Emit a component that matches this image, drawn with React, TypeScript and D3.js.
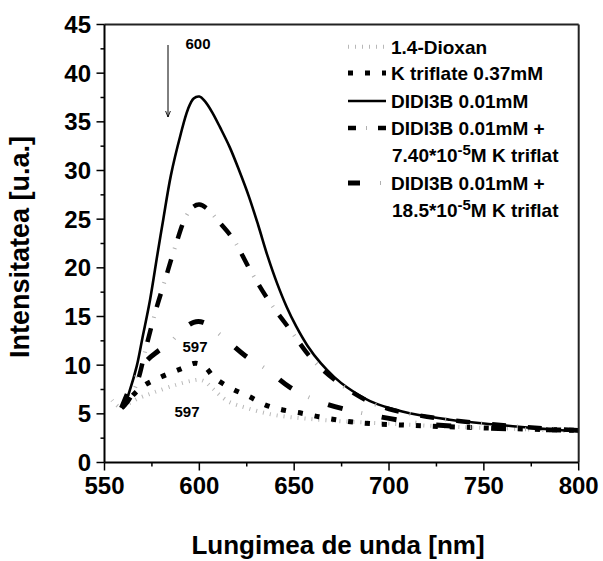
import React from "react";
import * as d3 from "d3";

const xTicks = [550, 600, 650, 700, 750, 800];
const yTicks = [0, 5, 10, 15, 20, 25, 30, 35, 40, 45];

const dioxanWl = [554, 558, 562, 568, 576, 588, 596, 600, 603, 607, 615, 625, 639, 657, 678, 700, 730, 760, 800];
const dioxanI = [6.4, 5.7, 6.0, 6.6, 7.2, 8.0, 8.4, 8.5, 8.3, 7.6, 6.3, 5.6, 4.9, 4.5, 4.2, 4.0, 3.7, 3.5, 3.2];

const ktrifWl = [559, 563, 570, 580, 590, 598, 603, 608, 617, 626, 635, 644, 654, 663, 672, 681, 690, 707, 727, 760, 800];
const ktrifI = [5.6, 6.5, 7.8, 8.8, 9.6, 10.2, 9.8, 8.7, 7.6, 6.8, 5.9, 5.4, 5.06, 4.7, 4.4, 4.15, 4.0, 3.85, 3.7, 3.5, 3.3];

const didiWl = [560, 563, 567, 570, 574, 578, 581, 585, 590, 594, 597, 600, 603, 607, 611, 616, 621, 626, 631, 636, 641, 646, 651, 657, 664, 671, 678, 690, 700, 715, 732, 750, 767, 785, 800];
const didiI = [5.6, 7.2, 9.9, 12.8, 16.7, 21.5, 25, 29.5, 33.6, 36.3, 37.4, 37.6, 37.1, 35.9, 34.4, 32.4, 30.0, 27.4, 24.4, 21.2, 18.4, 16.0, 14.0, 12.0, 10.2, 8.8, 7.7, 6.3, 5.6, 4.9, 4.4, 4.0, 3.7, 3.4, 3.2];

const d740Wl = [559, 562, 567, 572, 577, 582, 587, 593, 597, 600, 604, 610, 618, 627, 636, 648, 660, 674, 690, 700, 720, 750, 775, 800];
const d740I = [5.6, 6.2, 8.1, 11.9, 15.6, 18.8, 22.0, 25.3, 26.3, 26.5, 26.1, 24.8, 22.9, 19.7, 16.8, 13.6, 10.5, 8.1, 6.2, 5.5, 4.7, 4.0, 3.6, 3.3];

const d185Wl = [559, 565, 572, 578, 584, 591, 597, 602, 608, 616, 624, 636, 648, 664, 690, 718, 746, 773, 800];
const d185I = [5.6, 8.3, 10.4, 11.4, 12.2, 13.6, 14.4, 14.4, 13.6, 12.3, 11.0, 9.5, 7.7, 6.2, 4.9, 4.0, 3.6, 3.4, 3.3];

const legendLabels = ["1.4-Dioxan", "K triflate 0.37mM", "DIDI3B 0.01mM", "DIDI3B 0.01mM +", "DIDI3B 0.01mM +"];
const legendSub = ["7.40*10", "18.5*10"];

const x = d3.scaleLinear().domain([550, 800]).range([104.5, 578.7]);
const y = d3.scaleLinear().domain([0, 45]).range([462.5, 24.5]);

const line = d3
  .line<[number, number]>()
  .x((d) => x(d[0]))
  .y((d) => y(d[1]))
  .curve(d3.curveCatmullRom.alpha(0.5));

const zip = (a: number[], b: number[]) => a.map((v, i) => [v, b[i]] as [number, number]);

const FONT = "'Liberation Sans', Arial, sans-serif";

type StyleDef = { parts: { stroke: string; width: number; dash?: string; offset?: number }[] };

const styles: StyleDef[] = [
  { parts: [{ stroke: "#b8b8b8", width: 4, dash: "1 6" }] },
  { parts: [{ stroke: "#000", width: 5, dash: "5 12" }] },
  { parts: [{ stroke: "#000", width: 2.6 }] },
  {
    parts: [
      { stroke: "#000", width: 4.5, dash: "14 22" },
      { stroke: "#b0b0b0", width: 4, dash: "1 35", offset: -25 },
    ],
  },
  {
    parts: [
      { stroke: "#000", width: 5, dash: "15 40" },
      { stroke: "#b0b0b0", width: 4, dash: "1 54", offset: -34 },
    ],
  },
];

const series = [
  zip(dioxanWl, dioxanI),
  zip(ktrifWl, ktrifI),
  zip(didiWl, didiI),
  zip(d740Wl, d740I),
  zip(d185Wl, d185I),
];

export default function App() {
  const minorX = d3.range(550, 801, 25).filter((v) => !xTicks.includes(v));
  const minorY = d3.range(0, 45.1, 2.5).filter((v) => !yTicks.includes(v));
  const legendRows = [46.7, 73, 101, 128, 183];
  const ax = "#000";
  return (
    <svg
      width={603}
      height={561}
      style={{ position: "absolute", left: 0, top: 0, background: "#fff" }}
      fontFamily={FONT}
      fontWeight="bold"
    >
      <defs>
        <marker id="arr" viewBox="0 0 10 10" refX="10" refY="5" markerWidth="6" markerHeight="9" orient="auto" markerUnits="userSpaceOnUse">
          <path d="M0,1 L10,5 L0,9" fill="none" stroke="#000" strokeWidth="1.5" />
        </marker>
      </defs>

      {/* curves */}
      {series.map((s, i) =>
        styles[i].parts.map((p, j) => (
          <path
            key={`${i}-${j}`}
            d={line(s) || ""}
            fill="none"
            stroke={p.stroke}
            strokeWidth={p.width}
            strokeDasharray={p.dash}
            strokeDashoffset={p.offset}
            strokeLinejoin="round"
          />
        ))
      )}

      {/* frame */}
      <line x1={x(550)} x2={x(800)} y1={y(45)} y2={y(45)} stroke="#222" strokeWidth={2} />
      <line x1={x(800)} x2={x(800)} y1={y(45)} y2={y(0)} stroke="#222" strokeWidth={2} />
      <line x1={x(550)} x2={x(800)} y1={y(0)} y2={y(0)} stroke={ax} strokeWidth={2} />
      <line x1={x(550)} x2={x(550)} y1={y(45)} y2={y(0)} stroke={ax} strokeWidth={2} />

      {/* x ticks */}
      {xTicks.map((t) => (
        <g key={`xt${t}`}>
          <line x1={x(t)} x2={x(t)} y1={y(0)} y2={y(0) + 8} stroke={ax} strokeWidth={1.5} />
          <text x={x(t)} y={494} textAnchor="middle" fontSize={24}>
            {t}
          </text>
        </g>
      ))}
      {minorX.map((t) => (
        <line key={`xm${t}`} x1={x(t)} x2={x(t)} y1={y(0)} y2={y(0) + 4} stroke={ax} strokeWidth={1.5} />
      ))}

      {/* y ticks */}
      {yTicks.map((t) => (
        <g key={`yt${t}`}>
          <line x1={x(550) - 8} x2={x(550)} y1={y(t)} y2={y(t)} stroke={ax} strokeWidth={1.5} />
          <text x={91} y={y(t) + 8.5} textAnchor="end" fontSize={24}>
            {t}
          </text>
        </g>
      ))}
      {minorY.map((t) => (
        <line key={`ym${t}`} x1={x(550) - 4} x2={x(550)} y1={y(t)} y2={y(t)} stroke={ax} strokeWidth={1.5} />
      ))}

      {/* axis titles */}
      <text x={338} y={554} textAnchor="middle" fontSize={26}>
        Lungimea de unda [nm]
      </text>
      <text transform="translate(29,247) rotate(-90)" textAnchor="middle" fontSize={27}>
        Intensitatea [u.a.]
      </text>

      {/* annotations */}
      <line x1={168} x2={168} y1={45} y2={117} stroke="#000" strokeWidth={1} markerEnd="url(#arr)" />
      <text x={198} y={49} textAnchor="middle" fontSize={15}>600</text>
      <text x={195} y={352} textAnchor="middle" fontSize={15}>597</text>
      <text x={187} y={417} textAnchor="middle" fontSize={15}>597</text>

      {/* legend */}
      {legendRows.map((ry, i) => (
        <g key={`lg${i}`}>
          {styles[i].parts.map((p, j) => (
            <line
              key={j}
              x1={348}
              x2={386}
              y1={ry}
              y2={ry}
              stroke={p.stroke}
              strokeWidth={p.width}
              strokeDasharray={i === 3 ? (j === 0 ? "8 22" : "1 40") : i === 4 ? (j === 0 ? "12 40" : "1 60") : p.dash}
              strokeDashoffset={i === 3 && j === 1 ? -18 : i === 4 && j === 1 ? -32 : undefined}
            />
          ))}
          <text x={391} y={ry + 6.8} fontSize={19}>
            {legendLabels[i]}
          </text>
        </g>
      ))}
      {legendSub.map((s, i) => (
        <text key={`ls${i}`} x={392} y={(i === 0 ? 155 : 210) + 6.8} fontSize={19}>
          {s}
          <tspan dy={-7} fontSize={15}>-5</tspan>
          <tspan dy={7}>M K triflat</tspan>
        </text>
      ))}
    </svg>
  );
}
